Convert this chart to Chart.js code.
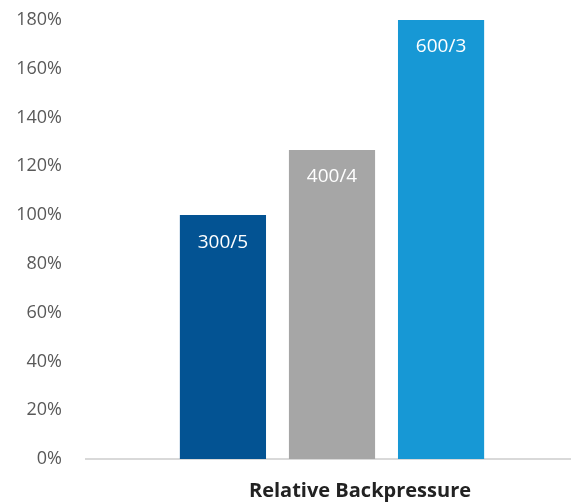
<!DOCTYPE html>
<html>
<head>
<meta charset="utf-8">
<script src="https://cdn.jsdelivr.net/npm/chart.js@4.4.0/dist/chart.umd.min.js"></script>
<style>
  html, body { margin: 0; padding: 0; background: #fff; overflow: hidden; }
  #wrap { width: 578px; height: 503px; position: relative; }
</style>
</head>
<body>
<div id="wrap"><canvas id="chart"></canvas></div>
<script>
const categories = ['Relative Backpressure']
const seriesNames = ['300/5', '400/4', '600/3']
const seriesValues = [100, 126.7, 180]
const seriesColors = ['#035393', '#a6a6a6', '#1798d5']
const yTicks = [0, 20, 40, 60, 80, 100, 120, 140, 160, 180]

const barLabels = {
    id: 'barLabels',
    afterDatasetsDraw(chart) {
        const ctx = chart.ctx
        ctx.save()
        ctx.fillStyle = '#ffffff'
        ctx.font = '19px "Open Sans"'
        ctx.textAlign = 'center'
        ctx.textBaseline = 'middle'
        chart.data.datasets.forEach((ds, i) => {
            const el = chart.getDatasetMeta(i).data[0]
            ctx.fillText(ds.label, el.x, el.y + 27)
        })
        ctx.restore()
    },
}

new Chart(document.getElementById('chart').getContext('2d'), {
    type: 'bar',
    data: {
        labels: categories,
        datasets: seriesNames.map((name, i) => ({
            label: name,
            data: [seriesValues[i]],
            backgroundColor: seriesColors[i],
            borderWidth: 0,
            categoryPercentage: 0.665,
            barPercentage: 0.79,
        })),
    },
    options: {
        responsive: true,
        maintainAspectRatio: false,
        animation: false,
        layout: { padding: { top: 20, right: 0, left: 0, bottom: 0 } },
        plugins: {
            legend: { display: false },
            tooltip: { enabled: false },
        },
        scales: {
            x: {
                grid: { display: false },
                border: { display: true, color: '#d9d9d9', width: 2 },
                ticks: {
                    color: '#222222',
                    font: { family: 'Open Sans', size: 20, weight: 'bold' },
                    padding: 12,
                    labelOffset: 28,
                },
                afterFit(scale) { scale.height = 44 },
            },
            y: {
                min: 0,
                max: 180,
                grid: { display: false },
                border: { display: false },
                afterBuildTicks(scale) { scale.ticks = yTicks.map((v) => ({ value: v })) },
                ticks: {
                    color: '#595959',
                    font: { family: 'Open Sans', size: 18 },
                    padding: 16,
                    callback: (v) => v + '%',
                },
                afterFit(scale) {
                    scale.width = 86
                    scale.paddingTop = 0
                    scale.paddingBottom = 0
                },
            },
        },
    },
    plugins: [barLabels],
})
</script>
</body>
</html>
